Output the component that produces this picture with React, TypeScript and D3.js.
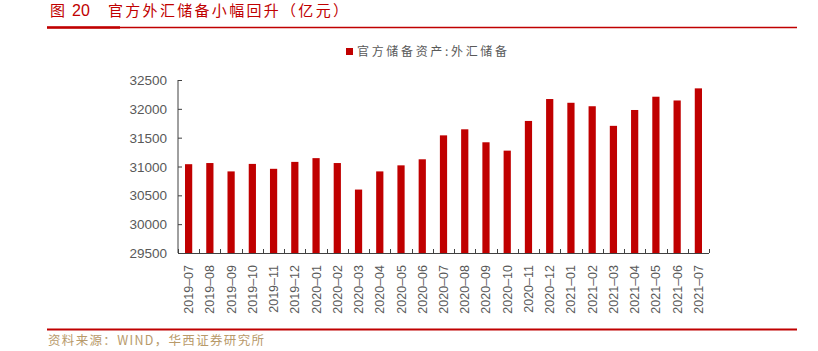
import React, { useEffect, useRef } from 'react';
import * as d3 from 'd3';

// months on the x axis
const months = [
  '2019-07', '2019-08', '2019-09', '2019-10', '2019-11', '2019-12',
  '2020-01', '2020-02', '2020-03', '2020-04', '2020-05', '2020-06',
  '2020-07', '2020-08', '2020-09', '2020-10', '2020-11', '2020-12',
  '2021-01', '2021-02', '2021-03', '2021-04', '2021-05', '2021-06', '2021-07',
];
// 官方储备资产:外汇储备 (亿元)
const reserves = [
  31040, 31060, 30915, 31045, 30960, 31080,
  31145, 31060, 30600, 30915, 31020, 31125,
  31540, 31645, 31420, 31275, 31790, 32170,
  32105, 32045, 31705, 31980, 32210, 32145, 32355,
];
const yTicks = [29500, 30000, 30500, 31000, 31500, 32000, 32500];

const titleFig = '图';
const titleNo = '20';
const titleText = '官方外汇储备小幅回升（亿元）';
const legendText = '官方储备资产:外汇储备';
const sourceText = '资料来源：WIND，华西证券研究所';

const W = 818;
const H = 351;
const RED = '#c00000';
const GREY = '#595959';
const CJK = '"Noto Sans CJK SC", "Liberation Sans", sans-serif';

export default function App() {
  const ref = useRef<SVGSVGElement>(null);

  useEffect(() => {
    const svg = d3.select(ref.current);
    svg.selectAll('*').remove();

    // plot area
    const left = 178, right = 709, top = 80, bottom = 253;

    const x = d3.scaleBand().domain(months).range([left, right]).paddingInner(0.66).paddingOuter(0.33);
    const y = d3.scaleLinear().domain([29500, 32500]).range([bottom, top]);

    // title + rules
    svg.append('text')
      .attr('x', 50).attr('y', 16)
      .attr('font-family', CJK).attr('font-size', 15)
      .attr('fill', RED)
      .text(titleFig);
    svg.append('text')
      .attr('x', 72).attr('y', 16)
      .attr('font-family', 'Liberation Sans, Arial, sans-serif').attr('font-size', 16)
      .attr('fill', RED)
      .text(titleNo);
    svg.append('text')
      .attr('x', 108).attr('y', 16)
      .attr('font-family', CJK).attr('font-size', 15)
      .attr('fill', RED)
      .attr('textLength', 240).attr('lengthAdjust', 'spacing')
      .text(titleText);
    svg.append('line')
      .attr('x1', 47).attr('x2', 797).attr('y1', 27.5).attr('y2', 27.5)
      .attr('stroke', RED).attr('stroke-width', 1.5);
    svg.append('line')
      .attr('x1', 47).attr('x2', 120).attr('y1', 27.5).attr('y2', 27.5)
      .attr('stroke', RED).attr('stroke-width', 2.5);

    // legend
    svg.append('rect')
      .attr('x', 346).attr('y', 48).attr('width', 7).attr('height', 7)
      .attr('fill', RED);
    svg.append('text')
      .attr('x', 357).attr('y', 55.5)
      .attr('font-family', CJK).attr('font-size', 12)
      .attr('fill', GREY)
      .attr('textLength', 150).attr('lengthAdjust', 'spacing')
      .text(legendText);

    // bars
    svg.append('g')
      .selectAll('rect')
      .data(reserves)
      .join('rect')
      .attr('x', (d, i) => x(months[i]) as number)
      .attr('width', x.bandwidth())
      .attr('y', d => y(d))
      .attr('height', d => bottom - y(d))
      .attr('fill', RED);

    // y axis (ticks inside)
    const yAxis = svg.append('g')
      .attr('transform', `translate(${left},0)`)
      .call(d3.axisRight(y).tickValues(yTicks).tickSize(4).tickFormat(() => ''));
    yAxis.select('.domain').attr('d', `M0,${top}V${bottom}`);
    yAxis.selectAll('line, path').attr('stroke', '#404040');

    svg.append('g')
      .selectAll('text')
      .data(yTicks)
      .join('text')
      .attr('x', 167)
      .attr('y', d => y(d) + 5)
      .attr('text-anchor', 'end')
      .attr('font-family', 'Liberation Sans, Arial, sans-serif')
      .attr('font-size', 13.5)
      .attr('fill', GREY)
      .text(d => d);

    // x axis, ticks at band edges pointing up
    const edges = months.map((m, i) => left + i * x.step()).concat([right]);
    const xAxis = svg.append('g');
    xAxis.append('line')
      .attr('x1', left).attr('x2', right)
      .attr('y1', bottom + 0.5).attr('y2', bottom + 0.5)
      .attr('stroke', '#404040');
    xAxis.selectAll('line.tick')
      .data(edges)
      .join('line')
      .attr('class', 'tick')
      .attr('x1', d => Math.round(d) + 0.5).attr('x2', d => Math.round(d) + 0.5)
      .attr('y1', bottom - 4).attr('y2', bottom)
      .attr('stroke', '#404040');

    svg.append('g')
      .selectAll('text')
      .data(months)
      .join('text')
      .attr('transform', d => `translate(${(x(d) as number) + x.bandwidth() / 2 + 4.5},265) rotate(-90)`)
      .attr('text-anchor', 'end')
      .attr('font-family', 'Liberation Sans, Arial, sans-serif')
      .attr('font-size', 12.5)
      .attr('fill', GREY)
      .text(d => d.replace('-', '–'));

    // footer
    svg.append('line')
      .attr('x1', 47).attr('x2', 797).attr('y1', 329.5).attr('y2', 329.5)
      .attr('stroke', RED).attr('stroke-width', 2);
    svg.append('text')
      .attr('x', 48).attr('y', 345)
      .attr('font-family', CJK).attr('font-size', 12.5)
      .attr('fill', '#b89a6a')
      .attr('textLength', 216).attr('lengthAdjust', 'spacing')
      .text(sourceText);
  }, []);

  return (
    <svg ref={ref} width={W} height={H} style={{ position: 'absolute', left: 0, top: 0, background: '#fff' }} />
  );
}
